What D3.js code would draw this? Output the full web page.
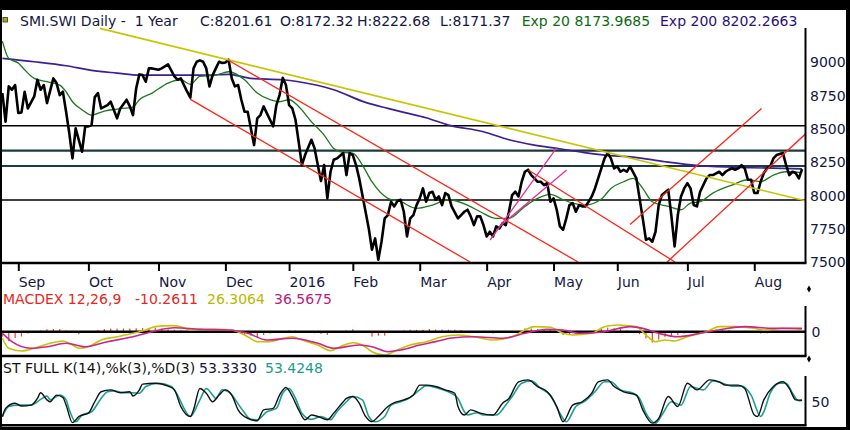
<!DOCTYPE html>
<html>
<head>
<meta charset="utf-8">
<script src="https://cdn.jsdelivr.net/npm/d3@7"></script>
<style>
  html, body { margin: 0; padding: 0; background: #000; }
  svg { display: block; }
  text { font-family: "DejaVu Sans", Verdana, sans-serif; white-space: pre; }
</style>
</head>
<body>
<svg id="chart" width="850" height="430"></svg>
<script>
// --- data (trading-day index, value) ---
const months = ["Sep", "Oct", "Nov", "Dec", "2016", "Feb", "Mar", "Apr", "May", "Jun", "Jul", "Aug"];
const monthStart = [5, 27, 49, 70, 90, 110, 131, 152, 173, 193, 215, 236];
const priceTicks = [7500, 7750, 8000, 8250, 8500, 8750, 9000];

const closePts = [[0,8770],[1,8555],[2,8820],[3,8795],[4,8830],[5,8620],[6,8625],[7,8780],[8,8655],[10,8745],
  [11,8870],[12,8795],[13,8830],[14,8695],[16,8880],[17,8845],[18,8755],[19,8780],[20,8630],[21,8470],
  [22,8280],[23,8505],[25,8330],[26,8520],[27,8520],[28,8530],[29,8740],[30,8770],[31,8655],[33,8680],
  [34,8705],[36,8580],[37,8655],[39,8720],[40,8670],[41,8605],[42,8805],[43,8910],[44,8905],[45,8855],
  [46,8955],[47,8955],[49,8945],[50,8955],[52,8985],[53,8940],[54,8895],[55,8870],[56,8880],[58,8780],
  [59,8735],[60,8955],[61,9005],[62,9015],[63,9005],[64,8955],[65,8820],[66,8905],[67,8955],[68,9005],
  [69,8995],[70,9000],[71,9020],[72,8880],[73,8820],[74,8830],[75,8720],[76,8630],[77,8630],[78,8505],
  [79,8380],[80,8580],[81,8605],[82,8670],[83,8620],[84,8570],[85,8520],[86,8680],[87,8755],[88,8885],
  [89,8830],[90,8680],[91,8655],[92,8570],[93,8405],[94,8230],[95,8305],[97,8420],[98,8355],[99,8230],
  [100,8110],[101,8230],[102,7980],[103,8180],[104,8270],[105,8280],[107,8320],[108,8155],[109,8320],[110,8305],
  [111,8230],[112,8130],[113,8005],[114,7880],[115,7755],[116,7595],[117,7680],[118,7520],[119,7655],[120,7830],
  [121,7855],[122,7955],[123,7920],[124,7960],[125,7970],[126,7880],[127,7695],[128,7830],[129,7855],[130,7930],
  [131,7980],[132,8055],[133,7955],[134,8020],[135,8030],[136,7970],[137,7995],[138,7930],[139,8020],[140,8005],
  [141,7920],[143,7830],[144,7855],[145,7880],[146,7895],[147,7845],[148,7780],[149,7845],[150,7845],[151,7780],
  [152,7695],[153,7730],[154,7695],[155,7770],[156,7755],[157,7795],[158,7780],[159,7880],[160,8005],[161,8030],
  [162,7995],[163,8105],[164,8180],[165,8195],[166,8155],[167,8130],[168,8105],[169,8105],[170,8080],[171,8095],
  [172,7955],[173,7980],[174,7895],[175,7770],[176,7745],[177,7830],[178,7930],[179,7945],[180,7880],[181,7930],
  [182,7920],[183,7920],[184,7955],[185,7995],[186,8055],[187,8130],[188,8205],[189,8280],[190,8320],[191,8280],
  [192,8205],[193,8220],[194,8180],[195,8195],[196,8180],[197,8220],[199,8130],[200,7980],[201,7830],[202,7670],
  [203,7680],[204,7655],[205,7730],[206,7930],[207,8005],[209,8045],[210,7845],[211,7620],[212,7855],[213,7995],
  [214,8055],[215,8095],[216,8055],[217,7930],[218,7920],[219,8030],[221,8130],[222,8155],[223,8155],[225,8180],
  [226,8155],[227,8180],[228,8195],[229,8205],[230,8195],[231,8205],[232,8230],[233,8205],[234,8120],[235,8120],
  [236,8020],[237,8020],[238,8105],[239,8170],[240,8205],[241,8220],[242,8280],[243,8305],[245,8320],[246,8230],
  [247,8155],[248,8180],[249,8170],[250,8130],[251,8200]];

const ema20Pts = [[0,9160],[2,9030],[5,8995],[7,8945],[10,8880],[14,8855],[18,8830],[20,8780],[22,8705],[25,8645],
  [28,8605],[32,8635],[36,8650],[41,8665],[43,8720],[47,8770],[52,8845],[56,8870],[59,8835],[62,8895],
  [67,8905],[71,8930],[76,8870],[80,8770],[84,8720],[87,8705],[90,8720],[93,8670],[97,8555],[101,8455],
  [104,8355],[107,8325],[110,8320],[113,8230],[116,8105],[121,7980],[125,7955],[130,7905],[135,7930],[140,7970],
  [146,7930],[150,7880],[155,7830],[159,7830],[164,7920],[168,7980],[172,8010],[176,7970],[179,7945],[183,7930],
  [188,7975],[191,8055],[195,8105],[198,8130],[201,8055],[204,7955],[209,7920],[213,7895],[216,7945],[219,7955],
  [223,8020],[229,8080],[234,8120],[238,8105],[242,8155],[246,8180],[251,8174]];

const ema200Pts = [[0,9030],[10,9005],[20,8975],[28,8940],[36,8920],[43,8905],[52,8905],[64,8905],[71,8910],[78,8880],
  [88,8870],[93,8855],[104,8795],[114,8700],[121,8655],[126,8625],[133,8585],[140,8530],[151,8480],[159,8420],
  [167,8380],[174,8355],[181,8330],[189,8305],[198,8290],[208,8255],[219,8225],[235,8210],[251,8202]];

const levels = [8525, 8338, 8223, 7968];
const trendYellow = [[30.6, 9255], [252, 7962]];
const trendRed = [
  [[70.8, 9018], [180.7, 7503]],
  [[58.9, 8725], [146.8, 7503]],
  [[165.1, 8193], [211.1, 7503]],
  [[197.0, 7784], [238.3, 8655]],
  [[208.5, 7500], [252.2, 8466]]
];
const trendMagenta = [
  [[153.1, 7668], [174.0, 8360]],
  [[156.2, 7773], [177.1, 8193]]
];

const macdPts = [[0,-73],[2,-184],[6,-214],[10,-184],[15,-129],[19,-103],[22,-148],[24,-184],[27,-167],[31,-92],
  [36,-56],[41,-18],[45,19],[48,56],[53,67],[56,56],[59,19],[62,27],[67,27],[72,19],[77,-56],[80,-111],
  [84,-111],[87,-84],[91,-56],[94,-92],[99,-148],[103,-211],[106,-167],[110,-122],[113,-148],[116,-222],
  [120,-259],[124,-203],[128,-148],[133,-111],[138,-56],[143,-37],[148,-56],[154,-92],[160,-56],[164,19],
  [167,56],[172,49],[176,-18],[179,-37],[185,-18],[189,56],[193,74],[199,56],[202,-37],[205,-111],[208,-92],
  [211,-103],[215,-56],[221,0],[225,56],[230,56],[236,38],[239,19],[245,38],[251,26]];
const signalPts = [[0,-18],[3,-111],[9,-184],[14,-167],[20,-129],[26,-167],[33,-111],[41,-56],[47,0],[54,44],
  [62,27],[71,19],[77,-18],[83,-92],[91,-73],[99,-129],[104,-184],[112,-148],[116,-167],[121,-222],[125,-203],
  [131,-148],[136,-110],[141,-70],[148,-56],[157,-73],[164,-18],[171,27],[176,19],[181,-18],[189,0],[197,56],
  [201,37],[206,-18],[212,-56],[219,-18],[226,27],[233,56],[242,37],[251,37]];
// histogram, one bar every 2nd trading day starting at day 0
const macdHist = [-55,-104,-70,-54,-20,-2,15,27,30,30,
  14,-8,-29,-8,0,20,30,35,34,35,
  35,38,40,40,46,35,27,21,16,-5,
  -8,0,2,4,4,2,4,-15,-30,-45,
  -61,-36,-21,-7,5,15,13,-2,-10,-18,
  -25,-35,-11,8,15,28,8,-15,-55,-45,
  -44,-10,5,15,22,20,22,30,25,24,
  22,22,18,8,0,-8,-17,-20,-7,-13,
  -16,10,37,35,30,25,24,-7,-37,-35,
  -25,-13,-10,15,45,45,40,32,15,2,
  -28,-74,-120,-87,-57,-52,-39,-20,-5,0,
  5,15,25,29,16,8,-5,-14,-14,-20,
  -18,-7,1,-2,-7,-10];

const stochK = [[0,18.5],[1,36],[4,47],[6,41],[9,43],[11,57],[12,69],[14,54],[15,50],[17,64],[19,59],[20,43],
  [22,6],[24,19],[27,26],[29,50],[31,71],[34,75],[37,69],[40,71],[41,62],[43,75],[44,87],[48,89],[52,83],
  [54,75],[56,40],[59,19],[60,33],[62,78],[64,68],[66,50],[68,64],[70,75],[72,64],[74,33],[77,15],[80,10],
  [82,33],[85,36],[87,64],[89,80],[91,61],[93,33],[95,12],[97,22],[99,19],[102,12],[104,26],[107,50],[108,57],
  [110,61],[112,47],[114,19],[116,8],[118,19],[121,40],[123,48],[126,54],[129,64],[131,85],[133,85],[136,82],
  [139,75],[142,68],[143,40],[145,22],[147,33],[150,26],[154,22],[157,47],[159,57],[162,92],[165,96],[168,82],
  [171,71],[174,40],[176,8],[179,43],[182,50],[185,68],[187,92],[190,96],[192,82],[195,71],[199,64],[201,33],
  [204,5],[206,15],[209,61],[212,40],[215,89],[218,75],[222,96],[225,92],[227,85],[231,85],[233,78],[236,22],
  [237,19],[239,54],[242,82],[245,92],[247,78],[249,54],[251,53.3]];
const stochD = [[0,18.5],[2,40],[5,43],[9,43],[12,55],[14,62],[15,54],[18,64],[20,54],[21,33],[23,8],[25,22],
  [28,29],[31,57],[33,71],[35,73],[38,69],[41,69],[43,68],[45,82],[49,89],[53,82],[55,64],[57,36],[59,19],
  [62,54],[64,78],[66,64],[67,57],[69,75],[71,71],[75,36],[78,13],[80,12],[83,29],[86,36],[88,68],[90,78],
  [92,57],[94,26],[97,13],[100,19],[103,12],[105,29],[108,50],[110,61],[113,54],[115,19],[117,8],[120,19],
  [122,43],[125,50],[127,55],[131,75],[133,84],[137,78],[140,71],[143,57],[145,29],[146,22],[149,27],[151,22],
  [155,22],[158,43],[160,61],[163,89],[166,94],[169,78],[172,64],[175,26],[177,8],[180,40],[183,52],[186,71],
  [189,92],[191,92],[194,75],[198,68],[200,57],[202,26],[205,5],[207,22],[210,50],[213,43],[216,82],[220,75],
  [223,94],[226,89],[229,83],[232,83],[235,64],[238,19],[239,29],[241,68],[244,89],[246,89],[248,68],[250,52],
  [251,53.4]];

const lastBar = ["C:8201.61", "O:8172.32", "H:8222.68", "L:8171.37"];
const emaLabels = ["Exp 20 8173.9685", "Exp 200 8202.2663"];
const macdLabels = ["MACDEX 12,26,9", "-10.2611", "26.3064", "36.5675"];
const stochLabels = ["ST FULL K(14),%k(3),%D(3)", "53.3330", "53.4248"];

// --- layout ---
const W = 850, H = 430;
const left = 2, right = 805.5;
const navy = "#14183f";

const svg = d3.select("#chart");
svg.append("rect").attr("x", 2).attr("y", 10).attr("width", 844).attr("height", 417).attr("fill", "#fff");

const x = d3.scaleLinear().domain([0, 251]).range([2.37, 802.06]);
const yPrice = d3.scaleLinear().domain([7500, 9000]).range([262.4, 62.4]);
const yMacd = d3.scaleLinear().domain([-100, 100]).range([340.7, 322.7]);
const yStoch = d3.scaleLinear().domain([0, 100]).range([425.5, 378]);

const defs = svg.append("defs");
function clip(id, y0, y1) {
  defs.append("clipPath").attr("id", id).append("rect")
    .attr("x", left).attr("y", y0).attr("width", right - left).attr("height", y1 - y0);
  return svg.append("g").attr("clip-path", `url(#${id})`);
}

// ---------- price panel ----------
const main = clip("clipMain", 10, 263);

main.selectAll("line.level")
  .data(levels)
  .join("line")
    .attr("x1", left).attr("x2", right)
    .attr("y1", d => yPrice(d)).attr("y2", d => yPrice(d))
    .attr("stroke", (d, i) => (i === 1 || i === 2) ? "#1d3b3b" : "#000")
    .attr("stroke-width", (d, i) => (i === 1 || i === 2) ? 2.2 : 1.3);

const lineP = d3.line().x(d => x(d[0])).y(d => yPrice(d[1]));
const smoothP = d3.line().x(d => x(d[0])).y(d => yPrice(d[1])).curve(d3.curveMonotoneX);

main.append("path").datum(ema200Pts)
  .attr("d", smoothP).attr("fill", "none").attr("stroke", "#3b1e98").attr("stroke-width", 1.7);
main.append("path").datum(ema20Pts)
  .attr("d", smoothP).attr("fill", "none").attr("stroke", "#1c7a1c").attr("stroke-width", 1.3);
main.append("path").datum(closePts)
  .attr("d", lineP).attr("fill", "none").attr("stroke", "#000")
  .attr("stroke-width", 2.6).attr("stroke-linejoin", "round");

main.append("path").datum(trendYellow)
  .attr("d", lineP).attr("stroke", "#c9c400").attr("stroke-width", 1.6);
main.selectAll("path.red")
  .data(trendRed)
  .join("path")
    .attr("d", lineP).attr("stroke", "#ff2416").attr("stroke-width", 1.3);
main.selectAll("path.mag")
  .data(trendMagenta)
  .join("path")
    .attr("d", lineP).attr("stroke", "#e2309c").attr("stroke-width", 1.3);

// price axis
svg.append("line").attr("x1", right).attr("x2", right).attr("y1", 28).attr("y2", 263)
  .attr("stroke", "#000").attr("stroke-width", 2);
const pAxis = svg.append("g").attr("transform", `translate(${right},0)`)
  .call(d3.axisRight(yPrice).tickValues(priceTicks).tickSize(0).tickPadding(4.5).tickFormat(d3.format("d")));
pAxis.select(".domain").remove();
pAxis.selectAll("text").attr("font-size", 14).attr("font-family", null).attr("fill", navy);

// time axis
const xAxis = svg.append("g").attr("transform", "translate(0,263)")
  .call(d3.axisBottom(x).tickValues(monthStart).tickSize(8).tickPadding(6)
    .tickFormat((d, i) => months[i]));
xAxis.select(".domain").remove();
xAxis.selectAll(".tick line").attr("stroke", "#000").attr("stroke-width", 2);
xAxis.selectAll("text").attr("font-size", 14).attr("font-family", null)
  .attr("text-anchor", "start").attr("fill", navy);
svg.append("line").attr("x1", 0).attr("x2", right + 1).attr("y1", 263).attr("y2", 263)
  .attr("stroke", "#000").attr("stroke-width", 2.6);

// title
svg.append("rect").attr("x", 3).attr("y", 17.5).attr("width", 4.5).attr("height", 4.5)
  .attr("fill", "#b9a400").attr("stroke", "#333").attr("stroke-width", 0.8);
svg.append("text").attr("x", 20).attr("y", 25.5).attr("font-size", 14).attr("fill", navy)
  .text("SMI.SWI Daily -  1 Year");
const barX = [200, 280, 357, 440];
lastBar.forEach((t, i) => {
  svg.append("text").attr("x", barX[i]).attr("y", 25.5).attr("font-size", 14).attr("fill", navy).text(t);
});
svg.append("text").attr("x", 521.7).attr("y", 25.5).attr("font-size", 14).attr("fill", "#0f6a12").text(emaLabels[0]);
svg.append("text").attr("x", 660).attr("y", 25.5).attr("font-size", 14).attr("fill", "#2c1278").text(emaLabels[1]);

// splitter markers
[289, 359].forEach(yy => {
  svg.append("path").attr("transform", `translate(809,${yy})`)
    .attr("d", d3.symbol(d3.symbolDiamond, 14)).attr("fill", "#000");
});

// ---------- MACD panel ----------
const macdColors = ["#e8261e", "#e8261e", "#b9b800", "#b8207c"];
const macdX = [3, 135, 207, 274];
macdLabels.forEach((t, i) => {
  svg.append("text").attr("x", macdX[i]).attr("y", 303.5).attr("font-size", 14)
    .attr("fill", macdColors[i]).text(t);
});

const mg = clip("clipMacd", 300, 356);
mg.selectAll("rect.hist")
  .data(macdHist)
  .join("rect")
    .attr("x", (d, i) => x(i * 2) - 0.6)
    .attr("width", 1.2)
    .attr("y", d => Math.min(yMacd(d), yMacd(0)))
    .attr("height", d => Math.abs(yMacd(d) - yMacd(0)))
    .attr("fill", "#ff3a1e");
mg.append("line").attr("x1", left).attr("x2", right).attr("y1", yMacd(0)).attr("y2", yMacd(0))
  .attr("stroke", "#000").attr("stroke-width", 2.6);
const lineM = d3.line().x(d => x(d[0])).y(d => yMacd(d[1])).curve(d3.curveMonotoneX);
mg.append("path").datum(macdPts).attr("d", lineM).attr("fill", "none")
  .attr("stroke", "#c4c400").attr("stroke-width", 1.6);
mg.append("path").datum(signalPts).attr("d", lineM).attr("fill", "none")
  .attr("stroke", "#d0228c").attr("stroke-width", 1.6);

svg.append("line").attr("x1", right).attr("x2", right).attr("y1", 306).attr("y2", 356)
  .attr("stroke", "#000").attr("stroke-width", 2);
svg.append("line").attr("x1", 0).attr("x2", right + 1).attr("y1", 356).attr("y2", 356)
  .attr("stroke", "#000").attr("stroke-width", 2.4);
const mAxis = svg.append("g").attr("transform", `translate(${right},0)`)
  .call(d3.axisRight(yMacd).tickValues([0]).tickSize(0).tickPadding(6));
mAxis.select(".domain").remove();
mAxis.selectAll("text").attr("font-size", 14).attr("font-family", null).attr("fill", navy);

// ---------- Stochastic panel ----------
const stColors = ["#111", navy, "#1a9c8c"];
const stX = [3, 199, 265];
stochLabels.forEach((t, i) => {
  svg.append("text").attr("x", stX[i]).attr("y", 372.5).attr("font-size", 14)
    .attr("fill", stColors[i]).text(t);
});

const sg = clip("clipStoch", 370, 425);
const lineS = d3.line().x(d => x(d[0])).y(d => yStoch(d[1])).curve(d3.curveMonotoneX);
sg.append("path").datum(stochD).attr("d", lineS).attr("fill", "none")
  .attr("stroke", "#1aa08f").attr("stroke-width", 1.6);
sg.append("path").datum(stochK).attr("d", lineS).attr("fill", "none")
  .attr("stroke", "#111").attr("stroke-width", 1.4);

svg.append("line").attr("x1", right).attr("x2", right).attr("y1", 376).attr("y2", 425.5)
  .attr("stroke", "#000").attr("stroke-width", 2);
svg.append("line").attr("x1", 0).attr("x2", right + 1).attr("y1", 425.3).attr("y2", 425.3)
  .attr("stroke", "#000").attr("stroke-width", 2.4);
const sAxis = svg.append("g").attr("transform", `translate(${right},0)`)
  .call(d3.axisRight(yStoch).tickValues([50]).tickSize(0).tickPadding(6));
sAxis.select(".domain").remove();
sAxis.selectAll("text").attr("font-size", 14).attr("font-family", null).attr("fill", navy);
</script>
</body>
</html>
